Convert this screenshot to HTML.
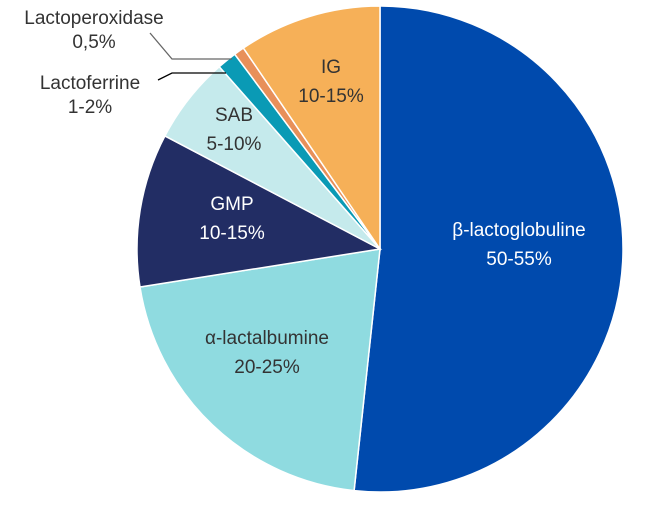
<!DOCTYPE html>
<html><head><meta charset="utf-8"><style>
body{margin:0;background:#fff}
svg text{font-family:"Liberation Sans",sans-serif;font-size:19px}
</style></head><body>
<svg width="650" height="500">
<g id="slices"></g>
<g id="labels"></g>
<polyline points="150,33 172,59 232,59" fill="none" stroke="#666" stroke-width="1.3"/>
<polyline points="158,80 172,73 226,73" fill="none" stroke="#000" stroke-width="1.3"/>
</svg>
<script>
const categories=["β-lactoglobuline","α-lactalbumine","GMP","SAB","Lactoferrine","Lactoperoxidase","IG"];
const values=[51.7,20.8,10.2,5.8,1.3,0.7,9.5];
const valueLabels=["50-55%","20-25%","10-15%","5-10%","1-2%","0,5%","10-15%"];
const colors=["#004aad","#8fdbe0","#222d64","#c5eaec","#0a9ab5","#e8905a","#f6b058"];
const cx=380,cy=249,R=243;
const total=values.reduce((a,b)=>a+b,0);
const ns="http://www.w3.org/2000/svg";
const sg=document.getElementById('slices'),lg=document.getElementById('labels');
function pt(frac,r){const a=frac*2*Math.PI;return [cx+r*Math.sin(a),cy-r*Math.cos(a)];}
let acc=0;
const labelPos=[[0.5,[519,236],"#fff"],[0.6,[267,344],"#333"],[0.6,[232,210],"#fff"],[0.7,[234,121],"#333"],null,null,[0.7,[331,73],"#333"]];
values.forEach((v,i)=>{
  const s=acc/total,e=(acc+v)/total;acc+=v;
  const [x1,y1]=pt(s,R),[x2,y2]=pt(e,R);
  const p=document.createElementNS(ns,'path');
  p.setAttribute('d',`M${cx},${cy}L${x1},${y1}A${R},${R} 0 ${e-s>0.5?1:0} 1 ${x2},${y2}Z`);
  p.setAttribute('fill',colors[i]);p.setAttribute('stroke','#fff');p.setAttribute('stroke-width','1.5');
  
  
  sg.appendChild(p);
  const lp=labelPos[i];
  let lines,x,y,col,anchor='middle';
  if(lp){[x,y]=lp[1];col=lp[2];}
  else if(i===4){x=90;y=89;col="#333";}
  else {x=94;y=24;col="#333";}
  const t=document.createElementNS(ns,'text');
  t.setAttribute('x',x);t.setAttribute('y',y);t.setAttribute('text-anchor',anchor);t.setAttribute('fill',col);
  
  
  const a=document.createElementNS(ns,'tspan');a.setAttribute('x',x);a.textContent=categories[i];
  const b=document.createElementNS(ns,'tspan');b.setAttribute('x',x);b.setAttribute('dy','29');b.textContent=valueLabels[i];
  if(i===4||i===5){b.setAttribute('dy','24');}
  t.appendChild(a);t.appendChild(b);lg.appendChild(t);
});
</script>
</body></html>
